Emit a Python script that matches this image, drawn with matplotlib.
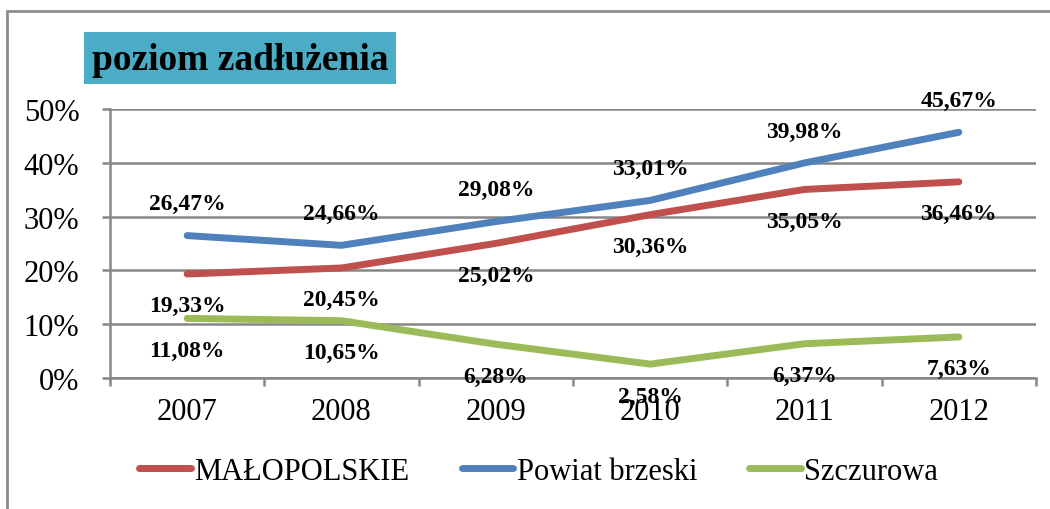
import matplotlib
matplotlib.use('Agg')
import matplotlib.pyplot as plt
from matplotlib.patches import Rectangle
from matplotlib.ticker import FuncFormatter, FixedLocator

plt.rcParams['font.family'] = ['Liberation Serif', 'DejaVu Serif']

years = ['2007', '2008', '2009', '2010', '2011', '2012']
malopolskie = [19.33, 20.45, 25.02, 30.36, 35.05, 36.46]
powiat_brzeski = [26.47, 24.66, 29.08, 33.01, 39.98, 45.67]
szczurowa = [11.08, 10.65, 6.28, 2.58, 6.37, 7.63]

series = [
    ('MAŁOPOLSKIE', malopolskie, '#C0504D', -23),
    ('Powiat brzeski', powiat_brzeski, '#4F81BD', 23),
    ('Szczurowa', szczurowa, '#9BBB59', -23),
]

fig = plt.figure(figsize=(10.5, 5.1), dpi=100)
ax = fig.add_axes([110 / 1050, 1 - 379 / 510, (1036 - 110) / 1050, (379 - 110) / 510])

x = list(range(len(years)))
for name, vals, col, off in series:
    ax.plot(x, vals, color=col, lw=5, solid_capstyle='round', solid_joinstyle='round', label=name, zorder=3)
    for xi, v in zip(x, vals):
        ax.annotate(f'{v:.2f}%'.replace('.', ','), (xi, v), xytext=(0, off), textcoords='offset points',
                    ha='center', va='center', fontsize=17, fontweight='bold', zorder=4)

grid_col = '#868686'
ax.set_ylim(0, 50)
ax.set_xlim(-0.5, len(years) - 0.5)
ax.set_yticks(range(0, 51, 10))
ax.yaxis.set_major_formatter(FuncFormatter(lambda v, p: f'{v:.0f}%'))
ax.grid(axis='y', color=grid_col, lw=1.8)
ax.set_axisbelow(True)

ax.xaxis.set_major_locator(FixedLocator([i - 0.5 for i in range(len(years) + 1)]))
ax.xaxis.set_major_formatter(FuncFormatter(lambda v, p: ''))
ax.xaxis.set_minor_locator(FixedLocator(x))
ax.set_xticklabels(years, minor=True)
ax.tick_params(axis='x', which='minor', length=0, pad=14, labelsize=22)
ax.tick_params(axis='x', which='major', length=6, width=1.8, color=grid_col)
ax.tick_params(axis='y', length=6, width=1.8, color=grid_col, pad=16, labelsize=22)

for s in ['top', 'right']:
    ax.spines[s].set_visible(False)
for s in ['left', 'bottom']:
    ax.spines[s].set_color(grid_col)
    ax.spines[s].set_linewidth(1.8)

# title box
fig.patches.append(Rectangle((84 / 1050, 1 - 85 / 510), (396 - 84) / 1050, (85 - 33) / 510,
                             transform=fig.transFigure, facecolor='#4BACC6', edgecolor='none'))
fig.text(240 / 1050, 1 - 61 / 510, 'poziom zadłużenia', ha='center', va='center',
         fontsize=27, fontweight='bold')

# outer border
fig.patches.append(Rectangle((7 / 1050, -0.05), 1.2, 1 - 12 / 510 + 0.05,
                             transform=fig.transFigure, fill=False, edgecolor='#8c8c8c', lw=2))

fig.legend(loc='center', bbox_to_anchor=(0.513, 1 - 472 / 510), ncol=3, frameon=False,
           fontsize=22, handlelength=1.7, handletextpad=0.1, columnspacing=1.7)

fig.savefig('out.png', dpi=100)
